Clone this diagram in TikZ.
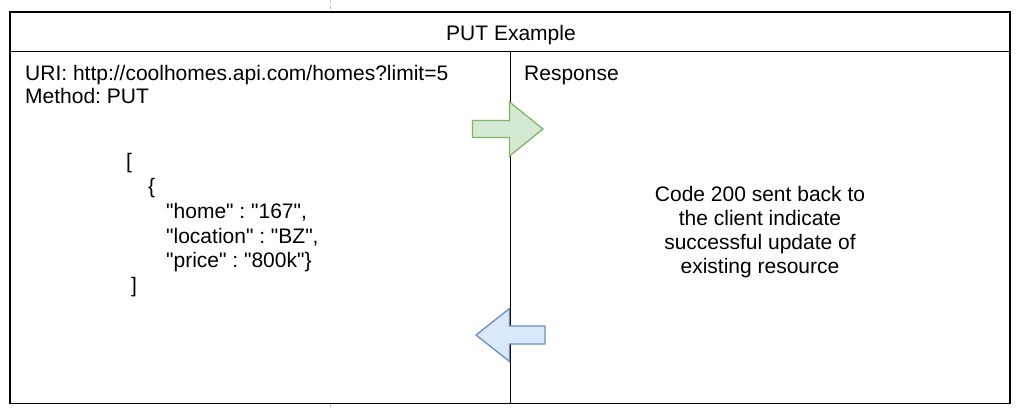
\documentclass[tikz,border=0pt]{standalone}
\usepackage{fontspec}
\setmainfont{Liberation Sans}[Ligatures=TeXOff]
\frenchspacing
\definecolor{grfill}{HTML}{D5E8D4}
\definecolor{grline}{HTML}{82B366}
\definecolor{blfill}{HTML}{DAE8FC}
\definecolor{blline}{HTML}{6C8EBF}
\definecolor{pagebrk}{HTML}{C0C0C0}
\begin{document}
\begin{tikzpicture}[x=1pt,y=-1pt,
  frame/.style={draw=black,line width=1.5pt},
  txt/.style={inner sep=0pt,font=\fontsize{21}{24}\selectfont},
  ln/.style={txt,anchor=base west},
  ctr/.style={txt,anchor=base},
  greenarrow/.style={fill=grfill,draw=grline,line width=1.3pt,line join=miter},
  bluearrow/.style={fill=blfill,draw=blline,line width=1.3pt,line join=miter},
  brk/.style={draw=pagebrk,line width=0.8pt,dash pattern=on 3pt off 3pt}]
\useasboundingbox (0,0) rectangle (1019,410);
% page break marks
\draw[brk] (330.5,0) -- (330.5,11);
\draw[brk] (330.5,404) -- (330.5,410);
% frame
\coordinate (tl) at (10,12);
\coordinate (br) at (1010,403.5);
\coordinate (ml) at (10,51.5);
\coordinate (mr) at (1010,51.5);
\coordinate (dt) at (510.5,51.5);
\coordinate (db) at (510.5,403.5);
\draw[frame,fill=white] (tl) rectangle (br);
\draw[frame] (ml) -- (mr);
\draw[frame] (dt) -- (db);
% title
\node[ctr] (title) at (511,40) {PUT Example};
% left cell
\node[ln] (uri) at (25,80) {URI: http://coolhomes.api.com/homes?limit=5};
\node[ln] (method) at (25,103.5) {Method: PUT};
\node[ln] (j1) at (126,168) {[};
\node[ln] (j2) at (148,193) {\{};
\node[ln] (j3) at (166,218) {"home" : "167",};
\node[ln] (j4) at (166,243) {"location" : "BZ",};
\node[ln] (j5) at (166,267) {"price" : "800k"\}};
\node[ln] (j6) at (131,292) {]};
% right cell
\node[ln] (resp) at (524,80) {Response};
\node[ctr] (r1) at (760,201) {Code 200 sent back to};
\node[ctr] (r2) at (760,225) {the client indicate};
\node[ctr] (r3) at (760,249) {successful update of};
\node[ctr] (r4) at (760,273) {existing resource};
% arrows
\draw[greenarrow] (472.5,120.5) -- (509.5,120.5) -- (509.5,102) -- (543,129) -- (509.5,156) -- (509.5,137.5) -- (472.5,137.5) -- cycle;
\draw[bluearrow] (545,326) -- (509.5,326) -- (509.5,308.5) -- (476,335) -- (509.5,361.5) -- (509.5,344) -- (545,344) -- cycle;
\end{tikzpicture}
\end{document}
